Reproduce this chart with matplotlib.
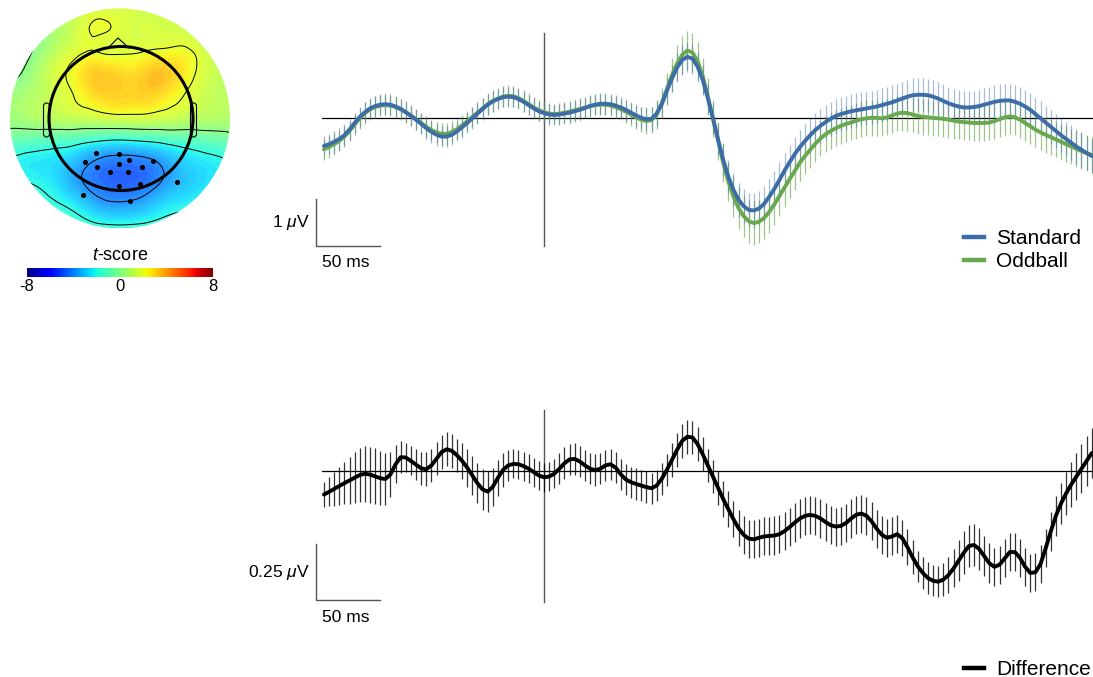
import numpy as np
import matplotlib
matplotlib.use("Agg")
import matplotlib.pyplot as plt
import matplotlib.tri as mtri
from matplotlib.patches import Circle, FancyBboxPatch
from matplotlib.lines import Line2D
from matplotlib.cm import ScalarMappable
from matplotlib.colors import Normalize, ListedColormap

plt.rcParams['font.family'] = ['Liberation Sans', 'DejaVu Sans']
plt.rcParams['mathtext.fontset'] = 'custom'
plt.rcParams['mathtext.rm'] = 'Liberation Sans'
plt.rcParams['mathtext.it'] = 'Liberation Sans:italic'

# ---------------- data ----------------
times = np.arange(-172, 429, 4)  # ms

standard = [
    -0.59, -0.55, -0.50, -0.44, -0.36, -0.24, -0.10, 0.03, 0.13, 0.21,
    0.26, 0.29, 0.30, 0.29, 0.25, 0.20, 0.13, 0.05, -0.03, -0.12,
    -0.21, -0.29, -0.35, -0.39, -0.39, -0.35, -0.28, -0.19, -0.10, 0.00,
    0.10, 0.20, 0.29, 0.36, 0.41, 0.45, 0.46, 0.45, 0.41, 0.35,
    0.28, 0.21, 0.15, 0.11, 0.08, 0.07, 0.08, 0.10, 0.12, 0.15,
    0.18, 0.22, 0.26, 0.29, 0.31, 0.31, 0.30, 0.27, 0.23, 0.18,
    0.12, 0.06, 0.01, -0.02, -0.01, 0.10, 0.30, 0.58, 0.85, 1.08,
    1.24, 1.31, 1.27, 1.10, 0.82, 0.43, 0.00, -0.45, -0.88, -1.24,
    -1.52, -1.73, -1.87, -1.95, -1.96, -1.92, -1.82, -1.67, -1.50, -1.31,
    -1.11, -0.93, -0.76, -0.61, -0.48, -0.36, -0.25, -0.16, -0.08, -0.01,
    0.05, 0.09, 0.12, 0.15, 0.17, 0.19, 0.21, 0.23, 0.25, 0.28,
    0.31, 0.34, 0.38, 0.42, 0.46, 0.49, 0.50, 0.50, 0.49, 0.46,
    0.42, 0.37, 0.32, 0.28, 0.25, 0.23, 0.23, 0.24, 0.26, 0.29,
    0.32, 0.35, 0.37, 0.38, 0.38, 0.35, 0.31, 0.25, 0.18, 0.09,
    0.00, -0.09, -0.18, -0.27, -0.36, -0.44, -0.52, -0.60, -0.67, -0.74,
    -0.80,
]

oddball = [
    -0.66, -0.61, -0.55, -0.48, -0.39, -0.27, -0.13, 0.00, 0.11, 0.19,
    0.24, 0.27, 0.28, 0.27, 0.24, 0.19, 0.13, 0.06, -0.02, -0.10,
    -0.18, -0.25, -0.30, -0.33, -0.33, -0.29, -0.23, -0.15, -0.06, 0.03,
    0.12, 0.21, 0.30, 0.37, 0.42, 0.46, 0.48, 0.47, 0.43, 0.37,
    0.30, 0.23, 0.17, 0.13, 0.10, 0.09, 0.10, 0.12, 0.14, 0.17,
    0.20, 0.23, 0.26, 0.28, 0.29, 0.29, 0.27, 0.24, 0.19, 0.14,
    0.08, 0.02, -0.03, -0.06, -0.04, 0.08, 0.32, 0.62, 0.92, 1.17,
    1.35, 1.44, 1.40, 1.22, 0.90, 0.47, 0.00, -0.48, -0.94, -1.34,
    -1.66, -1.91, -2.08, -2.19, -2.23, -2.20, -2.12, -1.99, -1.83, -1.65,
    -1.47, -1.29, -1.12, -0.94, -0.80, -0.67, -0.54, -0.43, -0.34, -0.27,
    -0.21, -0.16, -0.12, -0.09, -0.05, -0.02, 0.00, 0.01, 0.01, 0.00,
    0.02, 0.06, 0.10, 0.12, 0.11, 0.08, 0.05, 0.03, 0.02, 0.01,
    0.00, -0.01, -0.03, -0.05, -0.07, -0.08, -0.09, -0.10, -0.10, -0.10,
    -0.09, -0.06, -0.02, 0.02, 0.04, 0.02, -0.03, -0.10, -0.17, -0.24,
    -0.30, -0.35, -0.40, -0.45, -0.50, -0.55, -0.60, -0.65, -0.70, -0.74,
    -0.78,
]

difference = [
    -0.105, -0.093, -0.080, -0.067, -0.054, -0.042, -0.030, -0.018, -0.012, -0.016,
    -0.024, -0.032, -0.036, -0.015, 0.030, 0.062, 0.060, 0.045, 0.028, 0.012,
    0.008, 0.025, 0.055, 0.085, 0.097, 0.090, 0.070, 0.045, 0.015, -0.020,
    -0.055, -0.082, -0.092, -0.070, -0.030, 0.005, 0.025, 0.032, 0.030, 0.022,
    0.010, -0.005, -0.020, -0.028, -0.025, -0.012, 0.010, 0.035, 0.052, 0.054,
    0.042, 0.025, 0.010, 0.004, 0.010, 0.025, 0.030, 0.015, -0.015, -0.038,
    -0.050, -0.058, -0.065, -0.072, -0.077, -0.065, -0.035, 0.005, 0.050, 0.095,
    0.135, 0.153, 0.150, 0.120, 0.075, 0.025, -0.025, -0.075, -0.125, -0.170,
    -0.215, -0.255, -0.285, -0.302, -0.305, -0.298, -0.292, -0.290, -0.288, -0.282,
    -0.268, -0.250, -0.230, -0.212, -0.200, -0.196, -0.200, -0.212, -0.228, -0.242,
    -0.248, -0.245, -0.232, -0.212, -0.195, -0.190, -0.200, -0.225, -0.258, -0.285,
    -0.298, -0.292, -0.282, -0.300, -0.340, -0.385, -0.425, -0.455, -0.478, -0.490,
    -0.494, -0.485, -0.465, -0.435, -0.400, -0.365, -0.335, -0.330, -0.348, -0.380,
    -0.412, -0.428, -0.418, -0.390, -0.362, -0.362, -0.388, -0.428, -0.455, -0.452,
    -0.415, -0.345, -0.270, -0.200, -0.145, -0.100, -0.060, -0.025, 0.010, 0.045,
    0.080,
]

standard_sem = [
    0.22, 0.22, 0.23, 0.23, 0.23, 0.22, 0.22, 0.21, 0.21, 0.22,
    0.22, 0.22, 0.23, 0.23, 0.22, 0.22, 0.21, 0.21, 0.21, 0.22,
    0.22, 0.23, 0.23, 0.22, 0.22, 0.21, 0.21, 0.22, 0.22, 0.23,
    0.23, 0.23, 0.22, 0.22, 0.22, 0.21, 0.21, 0.21, 0.22, 0.22,
    0.22, 0.22, 0.21, 0.21, 0.22, 0.22, 0.23, 0.23, 0.23, 0.22,
    0.22, 0.22, 0.22, 0.23, 0.23, 0.23, 0.22, 0.22, 0.22, 0.23,
    0.23, 0.24, 0.24, 0.25, 0.25, 0.26, 0.27, 0.28, 0.29, 0.30,
    0.31, 0.32, 0.32, 0.32, 0.32, 0.33, 0.33, 0.34, 0.34, 0.35,
    0.35, 0.36, 0.36, 0.37, 0.37, 0.37, 0.37, 0.37, 0.37, 0.37,
    0.37, 0.37, 0.37, 0.36, 0.36, 0.36, 0.36, 0.36, 0.36, 0.36,
    0.36, 0.36, 0.36, 0.36, 0.36, 0.36, 0.36, 0.36, 0.36, 0.36,
    0.36, 0.36, 0.36, 0.36, 0.36, 0.36, 0.35, 0.35, 0.35, 0.35,
    0.35, 0.35, 0.35, 0.35, 0.35, 0.35, 0.35, 0.35, 0.35, 0.35,
    0.35, 0.35, 0.35, 0.35, 0.35, 0.35, 0.35, 0.35, 0.35, 0.36,
    0.36, 0.36, 0.36, 0.36, 0.36, 0.37, 0.37, 0.37, 0.37, 0.37,
    0.37,
]

oddball_sem = [
    0.23, 0.23, 0.23, 0.22, 0.22, 0.22, 0.22, 0.22, 0.23, 0.23,
    0.23, 0.22, 0.22, 0.22, 0.22, 0.23, 0.23, 0.23, 0.22, 0.22,
    0.22, 0.22, 0.22, 0.23, 0.23, 0.23, 0.22, 0.22, 0.22, 0.22,
    0.23, 0.23, 0.23, 0.23, 0.22, 0.22, 0.22, 0.22, 0.22, 0.23,
    0.23, 0.23, 0.22, 0.22, 0.22, 0.22, 0.22, 0.23, 0.23, 0.23,
    0.23, 0.23, 0.23, 0.22, 0.22, 0.22, 0.23, 0.23, 0.23, 0.23,
    0.24, 0.25, 0.26, 0.27, 0.28, 0.30, 0.32, 0.34, 0.36, 0.38,
    0.40, 0.41, 0.41, 0.40, 0.39, 0.39, 0.39, 0.40, 0.41, 0.42,
    0.43, 0.44, 0.45, 0.46, 0.46, 0.46, 0.45, 0.45, 0.44, 0.43,
    0.42, 0.41, 0.40, 0.40, 0.39, 0.39, 0.38, 0.38, 0.38, 0.38,
    0.38, 0.38, 0.38, 0.38, 0.38, 0.38, 0.38, 0.38, 0.38, 0.38,
    0.38, 0.38, 0.38, 0.38, 0.38, 0.38, 0.38, 0.38, 0.38, 0.38,
    0.38, 0.38, 0.38, 0.38, 0.38, 0.38, 0.38, 0.38, 0.38, 0.38,
    0.38, 0.38, 0.38, 0.38, 0.38, 0.38, 0.38, 0.38, 0.38, 0.38,
    0.38, 0.38, 0.38, 0.38, 0.38, 0.38, 0.38, 0.38, 0.38, 0.38,
    0.38,
]

difference_sem = [
    0.055, 0.065, 0.075, 0.085, 0.095, 0.105, 0.115, 0.120, 0.125, 0.125,
    0.125, 0.120, 0.115, 0.100, 0.085, 0.070, 0.065, 0.065, 0.070, 0.075,
    0.075, 0.075, 0.075, 0.075, 0.075, 0.075, 0.075, 0.080, 0.085, 0.085,
    0.090, 0.090, 0.090, 0.085, 0.080, 0.075, 0.070, 0.065, 0.065, 0.065,
    0.065, 0.065, 0.065, 0.065, 0.065, 0.065, 0.070, 0.070, 0.070, 0.070,
    0.070, 0.070, 0.070, 0.070, 0.070, 0.070, 0.070, 0.070, 0.070, 0.070,
    0.070, 0.070, 0.070, 0.070, 0.070, 0.070, 0.070, 0.070, 0.075, 0.075,
    0.075, 0.075, 0.075, 0.075, 0.075, 0.075, 0.075, 0.075, 0.080, 0.080,
    0.080, 0.080, 0.085, 0.085, 0.085, 0.085, 0.085, 0.085, 0.085, 0.085,
    0.085, 0.085, 0.085, 0.085, 0.085, 0.085, 0.085, 0.085, 0.085, 0.085,
    0.085, 0.085, 0.085, 0.085, 0.085, 0.085, 0.085, 0.085, 0.085, 0.085,
    0.085, 0.085, 0.085, 0.080, 0.080, 0.075, 0.070, 0.070, 0.070, 0.070,
    0.070, 0.075, 0.080, 0.085, 0.090, 0.095, 0.095, 0.095, 0.095, 0.090,
    0.090, 0.085, 0.085, 0.085, 0.085, 0.085, 0.085, 0.085, 0.085, 0.085,
    0.085, 0.085, 0.085, 0.090, 0.090, 0.095, 0.100, 0.105, 0.110, 0.110,
    0.110,
]

# scalp map: t-scores on a regular grid (pixel units of the map panel)
topo_x = [10, 32, 54, 76, 98, 120, 142, 164, 186, 208, 230]
topo_y = [8, 30, 52, 74, 96, 118, 140, 162, 184, 206, 228]
topo_t = [
    [0.2, 0.4, 0.8, 1.2, 1.5, 1.6, 1.5, 1.3, 1.0, 0.6, 0.3],
    [-0.4, -0.1, 0.6, 1.5, 2.1, 1.8, 1.6, 1.6, 1.4, 1.0, 0.6],
    [-0.5, 0.0, 1.0, 1.8, 2.0, 1.9, 2.0, 2.2, 2.2, 1.4, 0.8],
    [-0.2, 0.4, 1.6, 2.4, 3.3, 3.0, 3.1, 3.4, 2.5, 1.5, 1.0],
    [0.4, 0.8, 1.4, 2.1, 2.9, 3.1, 3.1, 2.7, 1.9, 1.3, 1.0],
    [0.4, 0.7, 1.0, 1.2, 1.4, 1.6, 1.6, 1.4, 1.1, 0.9, 0.8],
    [-0.8, -1.0, -1.2, -1.4, -1.8, -2.0, -1.8, -1.5, -1.2, -0.9, -0.6],
    [-2.2, -2.4, -2.6, -3.3, -4.2, -4.5, -4.4, -3.7, -2.8, -2.4, -2.0],
    [-1.8, -2.0, -2.5, -3.6, -4.5, -4.8, -4.6, -3.8, -3.0, -2.5, -2.0],
    [-1.2, -1.5, -1.8, -2.4, -3.4, -3.7, -3.4, -2.6, -2.2, -1.9, -1.5],
    [-0.8, -1.0, -1.2, -1.4, -1.6, -1.7, -1.6, -1.5, -1.3, -1.1, -0.9],
]
cluster_x = [96, 119, 85, 129, 153, 97, 119, 142, 110, 128, 119, 140, 177, 83, 130]
cluster_y = [153, 154, 162, 160, 161, 167, 164, 167, 172, 172, 186, 184, 182, 195, 201]
t_range = (-8, 8)
t_ticks = [-8, 0, 8]
contour_levels = [-4, -2, 0, 2]

scale_ms = 50
scale_uv_top = 1.0
scale_uv_diff = 0.25

BLUE = '#3d6da8'
GREEN = '#6aa84f'

# ---------------- layout helpers ----------------
W, H = 1093, 677
fig = plt.figure(figsize=(W / 100, H / 100), dpi=100)
fig.patch.set_facecolor('white')


def fbox(x0, y0, x1, y1):
    return [x0 / W, 1 - y1 / H, (x1 - x0) / W, (y1 - y0) / H]


def fpt(x, y):
    return (x / W, 1 - y / H)


# ---------------- ERP panel ----------------
ax1 = fig.add_axes(fbox(322, 25, 1093, 250))
ax1.set_xlim(-173.5, 429)
ax1.set_ylim(-2.802, 1.985)
ax1.axis('off')

std = np.array(standard)
odd = np.array(oddball)
ax1.axhline(0, color='black', lw=0.9, zorder=1)
ax1.plot([0, 0], [-2.717, 1.815], color='#555555', lw=1.0, zorder=1)
ax1.vlines(times, odd - np.array(oddball_sem), odd + np.array(oddball_sem),
           colors=GREEN, lw=0.9, alpha=0.65, zorder=2)
ax1.vlines(times, std - np.array(standard_sem), std + np.array(standard_sem),
           colors=BLUE, lw=0.9, alpha=0.45, zorder=3)
ax1.plot(times, odd, color=GREEN, lw=2.8, zorder=4, solid_capstyle='round')
ax1.plot(times, std, color=BLUE, lw=2.8, zorder=5, solid_capstyle='round')

# scale bars
x0, y0 = -178, -2.717
ax1.plot([x0, x0, x0 + scale_ms], [y0 + scale_uv_top, y0, y0], color='#555555',
         lw=1.0, clip_on=False)
ax1.text(x0 - 5, y0 + scale_uv_top / 2, '1 $\\mu$V', ha='right', va='center',
         fontsize=12.5, clip_on=False)
ax1.text(-173.5, -3.06, '%d ms' % scale_ms, ha='left', va='center',
         fontsize=12.5, clip_on=False)

fig.legend(handles=[Line2D([], [], color=BLUE, lw=3.2),
                    Line2D([], [], color=GREEN, lw=3.2)],
           labels=['Standard', 'Oddball'], loc='upper left',
           bbox_to_anchor=fpt(964, 229), frameon=False, fontsize=15,
           handlelength=0.95, handletextpad=0.6, labelspacing=0.2,
           borderpad=0, borderaxespad=0)

# ---------------- difference panel ----------------
ax2 = fig.add_axes(fbox(322, 400, 1093, 610))
ax2.set_xlim(-173.5, 429)
ax2.set_ylim(-0.6205, 0.317)
ax2.axis('off')

dif = np.array(difference)
ax2.axhline(0, color='black', lw=0.9, zorder=1)
ax2.plot([0, 0], [-0.585, 0.272], color='#555555', lw=1.0, zorder=1)
ax2.vlines(times, dif - np.array(difference_sem), dif + np.array(difference_sem),
           colors='black', lw=0.9, alpha=0.8, zorder=2)
ax2.plot(times, dif, color='black', lw=2.8, zorder=4, solid_capstyle='round')

x0, y0 = -178, -0.576
ax2.plot([x0, x0, x0 + scale_ms], [y0 + scale_uv_diff, y0, y0], color='#555555',
         lw=1.0, clip_on=False)
ax2.text(x0 - 5, y0 + scale_uv_diff / 2, '0.25 $\\mu$V', ha='right', va='center',
         fontsize=12.5, clip_on=False)
ax2.text(-173.5, -0.652, '%d ms' % scale_ms, ha='left', va='center',
         fontsize=12.5, clip_on=False)

fig.legend(handles=[Line2D([], [], color='black', lw=3.2)],
           labels=['Difference'], loc='upper left',
           bbox_to_anchor=fpt(964, 660), frameon=False, fontsize=15,
           handlelength=0.95, handletextpad=0.6,
           borderpad=0, borderaxespad=0)

# ---------------- scalp map ----------------
axt = fig.add_axes(fbox(0, 0, 240, 240))
axt.set_xlim(0, 240)
axt.set_ylim(240, 0)
axt.axis('off')

# map colours: jet, lightly washed toward white
jet = plt.get_cmap('jet')(np.linspace(0, 1, 256))
jet[:, :3] = 0.85 * jet[:, :3] + 0.15
map_cmap = ListedColormap(jet)

gx, gy = np.meshgrid(np.array(topo_x, float), np.array(topo_y, float))
tri = mtri.Triangulation(gx.ravel(), gy.ravel())
tri_f, z_f = mtri.UniformTriRefiner(tri).refine_field(
    np.array(topo_t, float).ravel(), subdiv=3)

disc = Circle((120, 118.5), 110, transform=axt.transData)
cf = axt.tricontourf(tri_f, z_f, levels=np.linspace(t_range[0], t_range[1], 81),
                     cmap=map_cmap, vmin=t_range[0], vmax=t_range[1], extend='both')
cf.set_clip_path(disc)
cl = axt.tricontour(tri_f, z_f, levels=contour_levels, colors='black',
                    linewidths=0.7, linestyles='solid')
cl.set_clip_path(disc)

# head outline, ears, nose
axt.add_patch(Circle((121, 118.5), 72, fill=False, ec='black', lw=2.2, zorder=5))
for ex in (43.5, 190.5):
    axt.add_patch(FancyBboxPatch((ex, 103), 6, 34,
                                 boxstyle='round,pad=0,rounding_size=3',
                                 fill=False, ec='black', lw=0.8, zorder=5))
axt.plot([108, 118, 129], [48, 38, 48], color='black', lw=0.8, zorder=5)
axt.scatter(cluster_x, cluster_y, s=7, color='black', zorder=6)

# colour bar
cax = fig.add_axes(fbox(27, 268, 213, 277))
cb = fig.colorbar(ScalarMappable(norm=Normalize(*t_range), cmap='jet'),
                  cax=cax, orientation='horizontal', ticks=t_ticks)
cb.outline.set_visible(False)
cax.tick_params(length=0, pad=1.5, labelsize=12)
cax.set_xticklabels([str(v) for v in t_ticks])
fig.text(*fpt(120, 256), '$t$-score', ha='center', va='center', fontsize=13)

fig.savefig('out.png', dpi=100, facecolor='white')
